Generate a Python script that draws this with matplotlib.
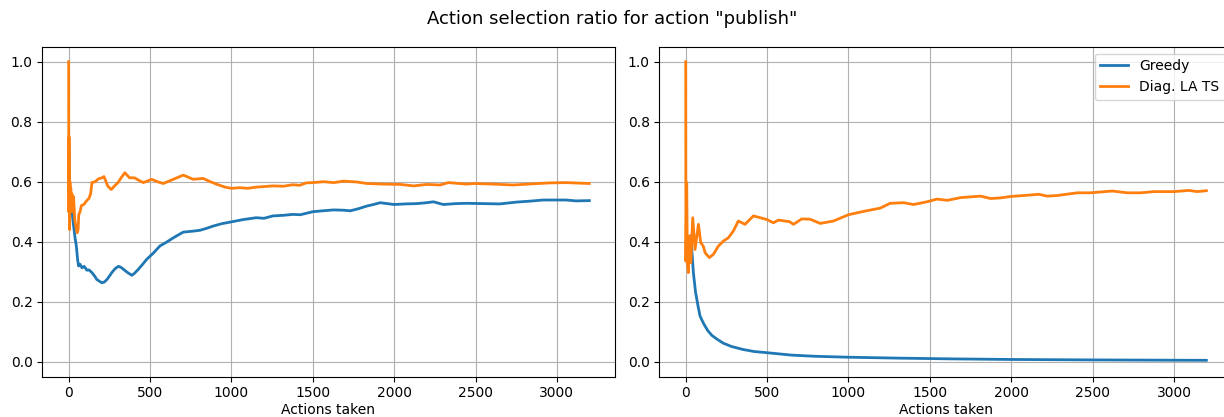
import matplotlib
matplotlib.use("Agg")
import matplotlib.pyplot as plt

# ---- Left panel: running share of "publish" picks ----
left_greedy_x = [20, 31, 40, 47, 55, 61, 70, 82, 95, 112, 125, 143, 160, 173, 190, 204,
                 220, 235, 250, 265, 285, 306, 320, 337, 360, 388, 405, 428, 455, 479,
                 520, 561, 600, 643, 704, 760, 806, 850, 887, 940, 998, 1075, 1153, 1200,
                 1255, 1320, 1377, 1424, 1500, 1560, 1629, 1690, 1731, 1780, 1833, 1880,
                 1914, 2000, 2070, 2139, 2200, 2241, 2302, 2380, 2445, 2550, 2649, 2751,
                 2853, 2914, 3000, 3057, 3118, 3199]
left_greedy_y = [0.50, 0.45, 0.41, 0.386, 0.34, 0.319, 0.325, 0.313, 0.318, 0.305, 0.306,
                 0.297, 0.285, 0.274, 0.268, 0.263, 0.266, 0.274, 0.285, 0.297, 0.310,
                 0.318, 0.315, 0.308, 0.298, 0.288, 0.295, 0.308, 0.325, 0.341, 0.362,
                 0.386, 0.398, 0.413, 0.432, 0.435, 0.438, 0.445, 0.452, 0.460, 0.466,
                 0.474, 0.480, 0.478, 0.486, 0.488, 0.491, 0.490, 0.500, 0.503, 0.506,
                 0.505, 0.503, 0.510, 0.519, 0.525, 0.530, 0.524, 0.526, 0.527, 0.530,
                 0.533, 0.524, 0.527, 0.528, 0.527, 0.526, 0.532, 0.536, 0.539, 0.539,
                 0.539, 0.536, 0.537]

left_lats_x = [0, 1, 2, 4, 6, 8, 10, 13, 16, 20, 25, 30, 38, 45, 52, 58, 62, 70, 78, 95,
               108, 125, 135, 143, 163, 184, 200, 217, 241, 262, 280, 303, 325, 345, 374,
               405, 430, 459, 510, 545, 581, 643, 704, 735, 765, 826, 870, 908, 960, 1000,
               1051, 1100, 1153, 1255, 1320, 1377, 1420, 1459, 1500, 1567, 1629, 1690,
               1771, 1833, 1935, 2037, 2119, 2200, 2282, 2333, 2445, 2486, 2608, 2731,
               2853, 2955, 3057, 3199]
left_lats_y = [1.0, 0.5, 0.75, 0.5, 0.44, 0.60, 0.50, 0.58, 0.50, 0.56, 0.50, 0.55, 0.47,
               0.45, 0.43, 0.44, 0.49, 0.50, 0.52, 0.525, 0.535, 0.545, 0.56, 0.597, 0.60,
               0.61, 0.612, 0.617, 0.585, 0.574, 0.585, 0.597, 0.615, 0.630, 0.613, 0.613,
               0.605, 0.597, 0.608, 0.600, 0.594, 0.608, 0.622, 0.615, 0.608, 0.611, 0.600,
               0.592, 0.582, 0.578, 0.580, 0.578, 0.582, 0.586, 0.585, 0.590, 0.588, 0.596,
               0.597, 0.600, 0.597, 0.602, 0.599, 0.594, 0.592, 0.591, 0.586, 0.591, 0.589,
               0.597, 0.592, 0.594, 0.592, 0.589, 0.593, 0.596, 0.597, 0.594]

# ---- Right panel ----
right_greedy_x = [33, 37, 47, 60, 75, 88, 110, 135, 160, 190, 230, 280, 350,
                  420, 500, 650, 800, 1000, 1300, 1625, 2000, 2500, 3000, 3199]
right_greedy_y = [0.42, 0.374, 0.297, 0.233, 0.187, 0.152, 0.127, 0.104,
                  0.088, 0.076, 0.062, 0.051, 0.041, 0.034, 0.030, 0.022, 0.018, 0.015,
                  0.012, 0.0095, 0.0075, 0.006, 0.005, 0.0047]

right_lats_x = [0, 1, 6, 10, 16, 22, 31, 43, 57, 78, 92, 108, 119, 145, 170, 200, 231,
                262, 293, 323, 364, 416, 457, 498, 539, 569, 637, 662, 713, 764, 826, 908,
                1000, 1092, 1195, 1256, 1338, 1400, 1482, 1543, 1607, 1689, 1811, 1873,
                1934, 2000, 2078, 2170, 2221, 2283, 2406, 2488, 2621, 2713, 2795, 2877,
                3000, 3092, 3143, 3199]
right_lats_y = [1.0, 0.335, 0.597, 0.33, 0.297, 0.419, 0.33, 0.48, 0.374, 0.458, 0.397,
                0.385, 0.363, 0.347, 0.358, 0.385, 0.402, 0.413, 0.436, 0.469, 0.458,
                0.486, 0.480, 0.474, 0.463, 0.472, 0.467, 0.458, 0.476, 0.475, 0.461,
                0.469, 0.490, 0.501, 0.512, 0.528, 0.530, 0.524, 0.533, 0.542, 0.538,
                0.547, 0.552, 0.544, 0.546, 0.551, 0.554, 0.558, 0.552, 0.554, 0.563,
                0.563, 0.569, 0.563, 0.563, 0.567, 0.567, 0.571, 0.567, 0.570]

labels = ["Greedy", "Diag. LA TS"]
title = 'Action selection ratio for action "publish"'
xlabel = "Actions taken"

fig = plt.figure(figsize=(12.24, 4.17), dpi=100)
ax1 = fig.add_axes([0.03456, 0.0966, 0.46764, 0.7914])
ax2 = fig.add_axes([0.5387, 0.0966, 0.46764, 0.7914])

ax1.plot(left_greedy_x, left_greedy_y, color="#1f77b4", lw=2, label=labels[0])
ax1.plot(left_lats_x, left_lats_y, color="#ff7f0e", lw=2, label=labels[1])
ax2.plot(right_greedy_x, right_greedy_y, color="#1f77b4", lw=2, label=labels[0])
ax2.plot(right_lats_x, right_lats_y, color="#ff7f0e", lw=2, label=labels[1])

for ax in (ax1, ax2):
    ax.grid(True, color="#b0b0b0", lw=0.8)
    ax.set_xlabel(xlabel, labelpad=2)
    ax.set_xticks([0, 500, 1000, 1500, 2000, 2500, 3000])
    ax.set_yticks([0.0, 0.2, 0.4, 0.6, 0.8, 1.0])
    ax.set_xlim(-162, 3355)
    ax.set_ylim(-0.05, 1.05)

ax2.legend(loc="upper right")
fig.suptitle(title, y=0.975, fontsize=13)

fig.savefig("out.png", dpi=100)
